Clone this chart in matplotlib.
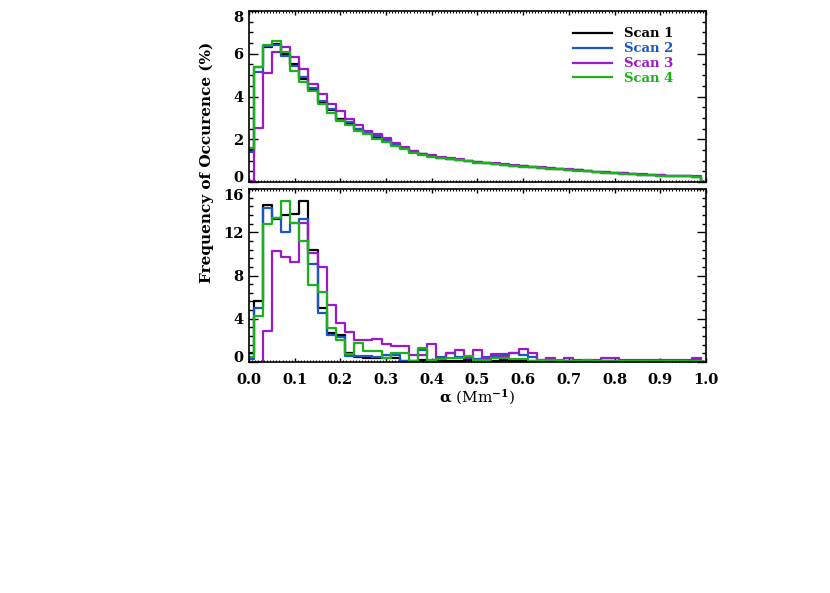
import numpy as np
import matplotlib.pyplot as plt
from matplotlib.ticker import MultipleLocator, FormatStrFormatter


# DATA (bin centres every 0.02 Mm^-1, values in %)
# ================================================================================

alpha = np.round(np.arange(0.0, 1.0001, 0.02), 2)

labels = ['Scan 1', 'Scan 2', 'Scan 3', 'Scan 4']
colors = ['#000000', '#1a56c8', '#9b19c9', '#19b319']

# top panel
top_scan1 = [1.50, 5.40, 6.32, 6.46, 5.98, 5.50, 4.84, 4.30, 3.75, 3.36,
             2.97, 2.74, 2.47, 2.35, 2.12, 1.96, 1.73, 1.57, 1.42, 1.29,
             1.21, 1.14, 1.08, 1.02, 0.97, 0.92, 0.88, 0.84, 0.81, 0.77,
             0.73, 0.69, 0.66, 0.63, 0.61, 0.58, 0.54, 0.51, 0.47, 0.44,
             0.42, 0.40, 0.37, 0.35, 0.33, 0.30, 0.29, 0.28, 0.27, 0.25, 0.0]
top_scan2 = [1.40, 5.15, 6.35, 6.40, 5.89, 5.45, 4.92, 4.38, 3.80, 3.40,
             2.90, 2.80, 2.50, 2.32, 2.15, 1.95, 1.75, 1.58, 1.44, 1.30,
             1.21, 1.13, 1.07, 1.02, 0.96, 0.91, 0.88, 0.83, 0.80, 0.77,
             0.72, 0.69, 0.66, 0.64, 0.60, 0.58, 0.54, 0.50, 0.47, 0.45,
             0.42, 0.39, 0.37, 0.35, 0.33, 0.31, 0.29, 0.28, 0.26, 0.25, 0.0]
top_scan3 = [0.05, 2.51, 5.12, 6.06, 6.32, 5.86, 5.31, 4.58, 4.10, 3.63,
             3.32, 2.93, 2.66, 2.40, 2.23, 2.04, 1.81, 1.62, 1.45, 1.33,
             1.26, 1.18, 1.12, 1.06, 1.00, 0.95, 0.91, 0.87, 0.84, 0.80,
             0.76, 0.72, 0.69, 0.66, 0.63, 0.60, 0.56, 0.52, 0.49, 0.46,
             0.43, 0.41, 0.38, 0.36, 0.34, 0.31, 0.30, 0.28, 0.27, 0.26, 0.0]
top_scan4 = [1.57, 5.39, 6.43, 6.59, 6.06, 5.19, 4.69, 4.25, 3.63, 3.24,
             2.85, 2.66, 2.38, 2.24, 2.00, 1.88, 1.68, 1.53, 1.37, 1.25,
             1.17, 1.12, 1.06, 1.01, 0.96, 0.91, 0.87, 0.83, 0.80, 0.76,
             0.72, 0.68, 0.65, 0.62, 0.60, 0.57, 0.53, 0.50, 0.46, 0.44,
             0.41, 0.39, 0.37, 0.34, 0.32, 0.30, 0.29, 0.27, 0.26, 0.25, 0.0]

# bottom panel
bot_scan1 = [0.80, 5.60, 14.50, 13.24, 13.60, 13.70, 14.85, 10.37, 4.97, 2.65,
             2.50, 0.80, 0.50, 0.40, 0.40, 0.40, 0.40, 0.10, 0.10, 0.20,
             0.10, 0.10, 0.10, 0.10, 0.15, 0.15, 0.15, 0.10, 0.20, 0.10,
             0.10, 0.05, 0.10, 0.05, 0.05, 0.05, 0.05, 0.05, 0.05, 0.05,
             0.05, 0.05, 0.05, 0.05, 0.05, 0.05, 0.05, 0.05, 0.05, 0.05, 0.0]
bot_scan2 = [0.30, 4.97, 14.23, 13.30, 12.00, 12.90, 13.20, 9.07, 4.50, 2.50,
             2.30, 0.60, 0.60, 0.60, 0.50, 0.65, 0.65, 0.10, 0.10, 1.10,
             0.10, 0.50, 0.80, 0.45, 0.35, 0.30, 0.50, 0.60, 0.70, 0.80,
             0.65, 0.50, 0.10, 0.05, 0.10, 0.05, 0.05, 0.05, 0.05, 0.10,
             0.05, 0.05, 0.05, 0.05, 0.05, 0.10, 0.05, 0.10, 0.05, 0.20, 0.0]
bot_scan3 = [0.00, 0.00, 2.90, 10.30, 9.75, 9.29, 12.84, 10.10, 8.83, 5.28,
             3.60, 2.80, 2.05, 2.04, 2.10, 1.67, 1.52, 1.52, 0.65, 0.62,
             1.70, 0.38, 0.80, 1.10, 0.35, 1.10, 0.38, 0.70, 0.60, 0.80,
             1.20, 0.80, 0.20, 0.40, 0.05, 0.40, 0.15, 0.15, 0.15, 0.35,
             0.35, 0.15, 0.15, 0.15, 0.15, 0.15, 0.15, 0.15, 0.15, 0.35, 0.0]
bot_scan4 = [0.50, 4.26, 12.80, 13.30, 14.94, 12.90, 11.20, 7.10, 6.50, 3.18,
             2.04, 0.74, 1.79, 1.02, 1.02, 0.34, 0.86, 0.86, 0.05, 1.30,
             0.15, 0.30, 0.35, 0.35, 0.55, 0.20, 0.20, 0.35, 0.35, 0.30,
             0.30, 0.10, 0.20, 0.15, 0.15, 0.10, 0.10, 0.15, 0.10, 0.10,
             0.10, 0.10, 0.10, 0.10, 0.10, 0.05, 0.10, 0.10, 0.05, 0.10, 0.0]

top_data = [top_scan1, top_scan2, top_scan3, top_scan4]
bot_data = [bot_scan1, bot_scan2, bot_scan3, bot_scan4]


# PLOT
# ================================================================================

plt.rcParams['font.family'] = ['DejaVu Serif']
plt.rcParams['font.weight'] = 'bold'
plt.rcParams['mathtext.fontset'] = 'dejavuserif'
plt.rcParams['mathtext.default'] = 'bf'

fig = plt.figure(figsize=(8.3, 5.93), dpi=100)
ax0 = fig.add_axes([0.3, 0.6931, 0.5506, 0.2883])
ax1 = fig.add_axes([0.3, 0.3895, 0.5506, 0.2917])

for vals, lab, col in zip(top_data, labels, colors):
    ax0.step(alpha, vals, where='mid', color=col, linewidth=1.6, label=lab)
for vals, col in zip(bot_data, colors):
    ax1.step(alpha, vals, where='mid', color=col, linewidth=1.6)

ax0.set_ylim(0, 8)
ax1.set_ylim(0, 16)
ax0.yaxis.set_major_locator(MultipleLocator(2))
ax0.yaxis.set_minor_locator(MultipleLocator(0.5))
ax1.yaxis.set_major_locator(MultipleLocator(4))
ax1.yaxis.set_minor_locator(MultipleLocator(0.8))

for ax in (ax0, ax1):
    ax.set_xlim(0, 1.0)
    ax.xaxis.set_major_locator(MultipleLocator(0.1))
    ax.xaxis.set_minor_locator(MultipleLocator(0.1 / 15))
    ax.tick_params(which='both', direction='in', top=True, right=True, labelsize=10.5)
    ax.tick_params(axis='y', which='major', length=6.5, width=1.0, pad=4)
    ax.tick_params(axis='y', which='minor', length=3.0, width=1.0)
    ax.tick_params(axis='x', which='major', length=3.0, width=1.0, pad=8)
    ax.tick_params(axis='x', which='minor', length=1.5, width=0.8)
    for sp in ax.spines.values():
        sp.set_linewidth(1.2)

ax0.tick_params(axis='x', labelbottom=False)
ax1.xaxis.set_major_formatter(FormatStrFormatter('%.1f'))
ax0.yaxis.set_major_formatter(FormatStrFormatter('%d'))
ax1.yaxis.set_major_formatter(FormatStrFormatter('%d'))

ax1.set_xlabel(r'$\alpha$ (Mm$^{-1}$)', fontsize=11, labelpad=0)
fig.text(0.249, 0.727, 'Frequency of Occurence (%)', rotation=90,
         ha='center', va='center', fontsize=11)

leg = ax0.legend(loc='upper right', bbox_to_anchor=(0.955, 0.975), frameon=False,
                 labelcolor='linecolor', handlelength=3.0, handletextpad=0.9,
                 labelspacing=0.15, prop={'size': 9.5, 'weight': 'bold'})

# end labels sit inside the panel, as in the original
fig.canvas.draw()
for ax in (ax0, ax1):
    lo, hi = ax.get_ylim()
    for tick in ax.yaxis.get_major_ticks():
        loc = tick.get_loc()
        if abs(loc - lo) < 1e-6:
            tick.label1.set_va('baseline')
        elif abs(loc - hi) < 1e-6:
            tick.label1.set_va('top')

fig.savefig('out.png', dpi=100)
